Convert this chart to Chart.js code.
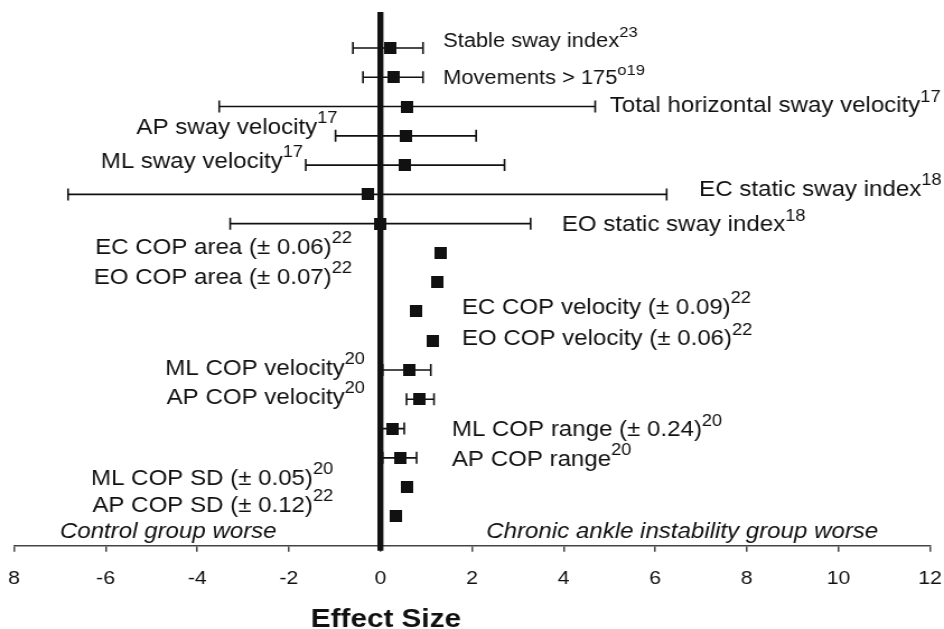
<!DOCTYPE html>
<html>
<head>
<meta charset="utf-8">
<script src="https://cdn.jsdelivr.net/npm/chart.js@4.4.1/dist/chart.umd.min.js"></script>
<style>
  html, body { margin: 0; padding: 0; background: #fff; }
</style>
</head>
<body>
<!-- the source figure is a slightly wide scan, so the canvas is drawn narrower and stretched to 944px -->
<canvas id="chart" width="843" height="629" style="width:944px;height:629px;display:block"></canvas>
<script>
// measures, top to bottom
const measures = [
  "Stable sway index", "Movements > 175", "Total horizontal sway velocity",
  "AP sway velocity", "ML sway velocity", "EC static sway index",
  "EO static sway index", "EC COP area (\u00b1 0.06)", "EO COP area (\u00b1 0.07)",
  "EC COP velocity (\u00b1 0.09)", "EO COP velocity (\u00b1 0.06)", "ML COP velocity",
  "AP COP velocity", "ML COP range (\u00b1 0.24)", "AP COP range",
  "ML COP SD (\u00b1 0.05)", "AP COP SD (\u00b1 0.12)"
];
const refs = ["23", "o19", "17", "17", "17", "18", "18", "22", "22", "22", "22", "20", "20", "20", "20", "20", "22"];
const effect = [0.21, 0.28, 0.58, 0.56, 0.54, -0.28, 0.0, 1.32, 1.23, 0.77, 1.14, 0.63, 0.86, 0.27, 0.43, 0.59, 0.34];
const ciLow  = [-0.60, -0.38, -3.52, -0.98, -1.63, -6.82, -3.28, null, null, null, null, 0.05, 0.57, 0.03, 0.05, null, null];
const ciHigh = [0.93, 0.93, 4.69, 2.09, 2.71, 6.25, 3.28, null, null, null, null, 1.10, 1.17, 0.52, 0.79, null, null];
const tickLabels = ["8", "-6", "-4", "-2", "0", "2", "4", "6", "8", "10", "12"];
const sideNotes = ["Control group worse", "Chronic ankle instability group worse"];
const axisTitle = "Effect Size";

// label placement (x in effect-size units, dy in px from the row)
const labelAt    = [1.37, 1.37, 5.01, -0.94, -1.69, 6.96, 3.96, -0.62, -0.62, 1.78, 1.78, -0.34, -0.34, 1.56, 1.56, -1.03, -1.03];
const labelAlign = ["left", "left", "left", "right", "right", "left", "left", "right", "right", "left", "left", "right", "right", "left", "left", "right", "right"];
const labelDy    = [-8, 0, -2, -10, -5, -6, 0, -7, -6, -5, -3, -3, -3, 0, 0, -10, -12];
const labelSize  = [19.5, 19.5, 21.5, 21.5, 21.5, 21.5, 21.5, 21.5, 21.5, 21.5, 21.5, 21.5, 21.5, 21.5, 21.5, 21.5, 21.5];
const noteAt = [-7.0, 2.31];

const FONT = '"Liberation Sans", Arial, Helvetica, sans-serif';
const INK = "#111";

// square marker, a touch narrower than tall (canvas gets stretched)
const square = document.createElement("canvas");
square.width = 11; square.height = 12;
const sctx = square.getContext("2d");
sctx.fillStyle = INK;
sctx.fillRect(0, 0, 11, 12);

function drawLabel(ctx, x, baseline, text, sup, size, align, italic) {
  const mainFont = (italic ? "italic " : "") + size + "px " + FONT;
  const supFont = (size * 0.76).toFixed(1) + "px " + FONT;
  ctx.font = mainFont;
  const mainW = ctx.measureText(text).width;
  ctx.font = supFont;
  const supW = sup ? ctx.measureText(sup).width : 0;
  const start = align === "right" ? x - mainW - supW : x;
  ctx.font = mainFont;
  ctx.fillText(text, start, baseline);
  if (sup) {
    ctx.font = supFont;
    ctx.fillText(sup, start + mainW, baseline - size * 0.5);
  }
}

const forest = {
  id: "forest",
  beforeDatasetsDraw(chart) {
    const { ctx, chartArea, scales: { x, y } } = chart;
    ctx.save();
    ctx.strokeStyle = INK;
    // line of no effect
    const x0 = x.getPixelForValue(0);
    ctx.lineWidth = 5.4;
    ctx.beginPath();
    ctx.moveTo(x0, chartArea.top);
    ctx.lineTo(x0, chartArea.bottom + 5);
    ctx.stroke();
    // confidence intervals
    ctx.lineWidth = 1.6;
    ciLow.forEach((lo, i) => {
      if (lo === null) return;
      const yy = y.getPixelForValue(i + 1);
      const a = x.getPixelForValue(lo);
      const b = x.getPixelForValue(ciHigh[i]);
      ctx.beginPath();
      ctx.moveTo(a, yy); ctx.lineTo(b, yy);
      ctx.moveTo(a, yy - 6); ctx.lineTo(a, yy + 6);
      ctx.moveTo(b, yy - 6); ctx.lineTo(b, yy + 6);
      ctx.stroke();
    });
    ctx.restore();
  },
  afterDatasetsDraw(chart) {
    const { ctx, scales: { x, y } } = chart;
    ctx.save();
    ctx.fillStyle = INK;
    ctx.textAlign = "left";
    ctx.textBaseline = "alphabetic";
    measures.forEach((m, i) => {
      const size = labelSize[i];
      const base = y.getPixelForValue(i + 1) + labelDy[i] + size * 0.358;
      drawLabel(ctx, x.getPixelForValue(labelAt[i]), base, m, refs[i], size, labelAlign[i], false);
    });
    const noteBase = y.getPixelForValue(measures.length + 1) - 15 + 21.5 * 0.358;
    sideNotes.forEach((t, i) => {
      drawLabel(ctx, x.getPixelForValue(noteAt[i]), noteBase, t, "", 21.5, "left", true);
    });
    // axis title, centred under the zero line
    ctx.font = "bold 26.5px " + FONT;
    ctx.textAlign = "center";
    ctx.fillText(axisTitle, x.getPixelForValue(0.12), 627);
    ctx.restore();
  }
};

new Chart(document.getElementById("chart"), {
  type: "scatter",
  data: {
    datasets: [{
      data: effect.map((v, i) => ({ x: v, y: i + 1 })),
      pointStyle: square,
      pointRadius: 6,
      pointHoverRadius: 6,
    }],
  },
  options: {
    responsive: false,
    devicePixelRatio: 1,
    animation: false,
    layout: { padding: { top: 12, left: 12.5, right: 12.5, bottom: 23.5 } },
    plugins: { legend: { display: false }, tooltip: { enabled: false } },
    scales: {
      x: {
        type: "linear",
        min: -8,
        max: 12,
        afterFit(scale) {
          scale.paddingLeft = 0;
          scale.paddingRight = 0;
        },
        ticks: {
          stepSize: 2,
          padding: 15.5,
          color: "#111",
          font: { family: FONT, size: 19 },
          callback: (v, i) => tickLabels[i],
        },
        grid: {
          drawOnChartArea: false,
          drawTicks: true,
          tickLength: 6,
          color: "#444",
          lineWidth: 1.5,
        },
        border: { color: "#444", width: 1.5 },
      },
      y: {
        type: "linear",
        display: false,
        reverse: true,
        min: -0.23,
        max: 18,
      },
    },
  },
  plugins: [forest],
});
</script>
</body>
</html>
